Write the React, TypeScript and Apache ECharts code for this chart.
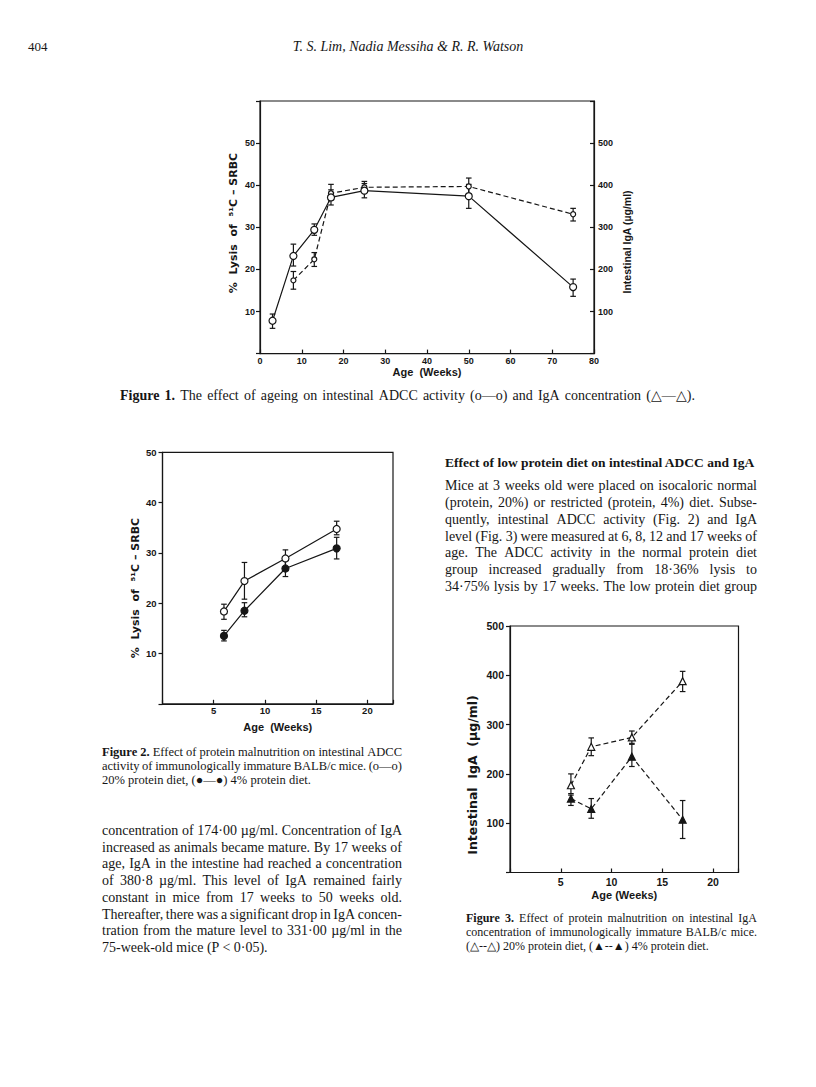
import React, { useEffect, useRef } from "react";
import * as echarts from "echarts";

// ---------- Figure 1 data ----------
const fig1Weeks = [3, 8, 13, 17, 25, 50, 75];
const fig1Adcc = [7.8, 23.2, 29.4, 37.1, 38.7, 37.4, 15.8];
const fig1AdccLow = [6.0, 20.8, 28.1, 35.3, 37.0, 34.5, 13.6];
const fig1AdccHigh = [9.4, 26.0, 30.8, 38.9, 40.4, 40.2, 17.7];
const fig1IgaWeeks = [8, 13, 17, 25, 50, 75];
const fig1Iga = [174, 224, 380.8, 395, 397, 331];
const fig1IgaLow = [153, 207, 365, 383, 380, 315];
const fig1IgaHigh = [195, 240, 402, 409, 417, 345];

// ---------- Figure 2 data ----------
const fig2Weeks = [6, 8, 12, 17];
const fig2Normal = [18.36, 24.4, 28.9, 34.75];
const fig2NormalLow = [16.8, 20.8, 27.1, 33.6];
const fig2NormalHigh = [19.8, 28.1, 30.6, 36.3];
const fig2Low = [13.5, 18.5, 26.9, 30.9];
const fig2LowLow = [12.5, 17.3, 25.3, 28.8];
const fig2LowHigh = [14.6, 20.1, 28.5, 33.1];

// ---------- Figure 3 data ----------
const fig3Weeks = [6, 8, 12, 17];
const fig3Normal = [177, 255, 274, 388];
const fig3NormalLow = [160, 237, 260, 367];
const fig3NormalHigh = [200, 273, 287, 408];
const fig3Low = [150, 129, 235, 107];
const fig3LowLow = [136, 110, 215, 69];
const fig3LowHigh = [157, 150, 262, 146];

// ---------- tick labels ----------
const fig1XTicks = [0, 10, 20, 30, 40, 50, 60, 70, 80];
const fig1YTicks = [10, 20, 30, 40, 50];
const fig1Y2Ticks = [100, 200, 300, 400, 500];
const fig23XTicks = [5, 10, 15, 20];
const fig2YTicks = [10, 20, 30, 40, 50];
const fig3YTicks = [100, 200, 300, 400, 500];

// ---------- axis titles ----------
const lysisTitle = "%  Lysis  of  \u2075\u00B9C \u2013 SRBC";
const igaTitle = "Intestinal  IgA  (\u00B5g/ml)";
const ageTitle = "Age  (Weeks)";

// ---------- page text ----------
const headerPage = "404";
const headerAuthors = "T. S. Lim, Nadia Messiha & R. R. Watson";
const fig1Caption = "Figure 1. The effect of ageing on intestinal ADCC activity (o—o) and IgA concentration (\u25B3—\u25B3).";
const fig2Caption = [
  "Figure 2. Effect of protein malnutrition on intestinal ADCC",
  "activity of immunologically immature BALB/c mice. (o—o)",
  "20% protein diet, (\u25CF—\u25CF) 4% protein diet.",
];
const fig3Caption = [
  "Figure 3. Effect of protein malnutrition on intestinal IgA",
  "concentration of immunologically immature BALB/c mice.",
  "(\u25B3--\u25B3) 20% protein diet, (\u25B2--\u25B2) 4% protein diet.",
];
const leftBody = [
  "concentration of 174·00 µg/ml. Concentration of IgA",
  "increased as animals became mature. By 17 weeks of",
  "age, IgA in the intestine had reached a concentration",
  "of 380·8 µg/ml. This level of IgA remained fairly",
  "constant in mice from 17 weeks to 50 weeks old.",
  "Thereafter, there was a significant drop in IgA concen-",
  "tration from the mature level to 331·00 µg/ml in the",
  "75-week-old mice (P < 0·05).",
];
const rightHeading = "Effect of low protein diet on intestinal ADCC and IgA";
const rightBody = [
  "Mice at 3 weeks old were placed on isocaloric normal",
  "(protein, 20%) or restricted (protein, 4%) diet. Subse-",
  "quently, intestinal ADCC activity (Fig. 2) and IgA",
  "level (Fig. 3) were measured at 6, 8, 12 and 17 weeks of",
  "age. The ADCC activity in the normal protein diet",
  "group increased gradually from 18·36% lysis to",
  "34·75% lysis by 17 weeks. The low protein diet group",
];

const SERIF = '"Liberation Serif", "Times New Roman", serif';
const SANS = '"Liberation Sans", Arial, "DejaVu Sans", sans-serif';
const WIDE = '"DejaVu Sans", "Liberation Sans", sans-serif';
const INK = "#161616";

type Line = {
  t: string;
  x: number;
  y: number;
  size: number;
  w?: number;
  b?: number;
  bold?: boolean;
  it?: boolean;
  align?: "left" | "center";
};

function buildLine(ctx: CanvasRenderingContext2D, L: Line): any[] {
  const isBold = (i: number) => !!(L.bold || (L.b && i < L.b));
  const fontOf = (i: number) =>
    `${L.it ? "italic " : ""}${isBold(i) ? "bold " : ""}${L.size}px ${SERIF}`;
  const styleOf = (i: number, text: string, align: string) => ({
    text,
    fontFamily: SERIF,
    fontSize: L.size,
    fontWeight: isBold(i) ? "bold" : "normal",
    fontStyle: L.it ? "italic" : "normal",
    fill: INK,
    align,
    verticalAlign: "middle",
  });
  if (!L.w && !L.b) {
    return [{ type: "text", x: L.x, y: L.y, silent: true, style: styleOf(-1, L.t, L.align || "left") }];
  }
  const words = L.t.split(" ");
  const widths = words.map((w, i) => {
    ctx.font = fontOf(i);
    return ctx.measureText(w).width;
  });
  ctx.font = fontOf(words.length + 5);
  let gap = ctx.measureText(" ").width;
  if (L.w && words.length > 1) {
    gap = (L.w - widths.reduce((a, b) => a + b, 0)) / (words.length - 1);
  }
  const els: any[] = [];
  let x = L.x;
  words.forEach((w, i) => {
    els.push({ type: "text", x, y: L.y, silent: true, style: styleOf(i, w, "left") });
    x += widths[i] + gap;
  });
  return els;
}

function vTitle(text: string, x: number, y: number, size: number, family: string) {
  return {
    type: "text",
    x,
    y,
    rotation: Math.PI / 2,
    silent: true,
    style: {
      text,
      fontFamily: family,
      fontSize: size,
      fontWeight: "bold",
      fill: INK,
      align: "center",
      verticalAlign: "middle",
    },
  };
}

function pageText(): any[] {
  const ctx = document.createElement("canvas").getContext("2d") as CanvasRenderingContext2D;
  const lines: Line[] = [];
  lines.push({ t: headerPage, x: 28, y: 46, size: 13 });
  lines.push({ t: headerAuthors, x: 408, y: 46, size: 14, it: true, align: "center" });
  lines.push({ t: fig1Caption, x: 120, y: 395, size: 14, b: 2, w: 575 });

  const f2y = [752, 766, 780];
  fig2Caption.forEach((t, i) =>
    lines.push({ t, x: 102, y: f2y[i], size: 12.5, b: i === 0 ? 2 : 0, w: i < 2 ? 300 : undefined })
  );
  const f3y = [918, 932, 946];
  fig3Caption.forEach((t, i) =>
    lines.push({ t, x: 466, y: f3y[i], size: 12, b: i === 0 ? 2 : 0, w: i < 2 ? 291 : undefined })
  );
  const ly = [830, 847, 863.5, 880, 897, 914, 930, 947];
  leftBody.forEach((t, i) =>
    lines.push({ t, x: 102, y: ly[i], size: 14, w: i < leftBody.length - 1 ? 300 : undefined })
  );
  lines.push({ t: rightHeading, x: 445, y: 462, size: 13.5, bold: true });
  const ry = [485, 502, 519, 536, 552, 569, 586];
  rightBody.forEach((t, i) => lines.push({ t, x: 445, y: ry[i], size: 14, w: 312 }));

  const els = lines.flatMap((L) => buildLine(ctx, L));
  els.push(vTitle(lysisTitle, 233, 223, 11, WIDE));
  els.push(vTitle(igaTitle.replace(/  /g, " "), 627, 242, 10.5, SANS));
  els.push(vTitle(lysisTitle, 135, 588, 11, WIDE));
  els.push(vTitle(igaTitle, 472, 775, 12.5, WIDE));
  return els;
}

const axisLine = { show: true, lineStyle: { color: INK, width: 1.2 } };
const tick = (inside: boolean) => ({ show: true, inside, length: 4, lineStyle: { color: INK, width: 1.2 } });
const labelStyle = (size: number) => ({ color: INK, fontFamily: SANS, fontSize: size, fontWeight: "bold" as const });
const nameStyle = { color: INK, fontFamily: SANS, fontSize: 11, fontWeight: "bold" as const };

function showIf(list: number[]) {
  return (v: number) => (list.indexOf(Math.round(v * 1000) / 1000) >= 0 ? String(v) : "");
}

function errSeries(xIdx: number, yIdx: number, xs: number[], lo: number[], hi: number[]) {
  return {
    type: "custom",
    xAxisIndex: xIdx,
    yAxisIndex: yIdx,
    z: 2,
    silent: true,
    data: xs.map((x, i) => [x, lo[i], hi[i]]),
    encode: { x: 0, y: [1, 2] },
    renderItem: (_p: any, api: any) => {
      const x = api.value(0);
      const a = api.coord([x, api.value(1)]);
      const b = api.coord([x, api.value(2)]);
      const st = { stroke: INK, lineWidth: 1.2 };
      const c = 2.8;
      return {
        type: "group",
        children: [
          { type: "line", shape: { x1: a[0], y1: a[1], x2: b[0], y2: b[1] }, style: st },
          { type: "line", shape: { x1: a[0] - c, y1: a[1], x2: a[0] + c, y2: a[1] }, style: st },
          { type: "line", shape: { x1: b[0] - c, y1: b[1], x2: b[0] + c, y2: b[1] }, style: st },
        ],
      };
    },
  };
}

function lineSeries(
  xIdx: number,
  yIdx: number,
  xs: number[],
  ys: number[],
  opts: { dashed?: boolean; symbol: string; size: number; filled?: boolean }
) {
  return {
    type: "line",
    xAxisIndex: xIdx,
    yAxisIndex: yIdx,
    z: 3,
    silent: true,
    data: xs.map((x, i) => [x, ys[i]]),
    symbol: opts.symbol,
    symbolSize: opts.size,
    showAllSymbol: true,
    lineStyle: { color: INK, width: 1.2, type: opts.dashed ? [5, 3] : "solid" },
    itemStyle: { color: opts.filled ? INK : "#fff", borderColor: INK, borderWidth: 1.2 },
  };
}

function buildOption() {
  const grids = [
    { left: 260, top: 101, width: 334, height: 252.6 },
    { left: 162.5, top: 452.3, width: 230.5, height: 251.5 },
    { left: 510, top: 626, width: 228.5, height: 246.5 },
  ].map((g) => ({
    ...g,
    show: true,
    borderColor: INK,
    borderWidth: 1.2,
    backgroundColor: "transparent",
    containLabel: false,
    outerBoundsMode: "none",
  }));

  const xAxis = [
    {
      gridIndex: 0,
      type: "value",
      min: 0,
      max: 80,
      interval: 10,
      axisLine,
      axisTick: tick(true),
      axisLabel: { ...labelStyle(9), margin: 3, formatter: showIf(fig1XTicks) },
      splitLine: { show: false },
      name: ageTitle,
      nameLocation: "middle",
      nameGap: 13,
      nameTextStyle: nameStyle,
    },
    {
      gridIndex: 1,
      type: "value",
      min: 0,
      max: 22.5,
      interval: 5,
      axisLine,
      axisTick: tick(true),
      axisLabel: { ...labelStyle(9.5), margin: 2, formatter: showIf(fig23XTicks) },
      splitLine: { show: false },
      name: ageTitle,
      nameLocation: "middle",
      nameGap: 18,
      nameTextStyle: nameStyle,
    },
    {
      gridIndex: 2,
      type: "value",
      min: 0,
      max: 22.5,
      interval: 5,
      axisLine,
      axisTick: tick(true),
      axisLabel: { ...labelStyle(10.5), margin: 4, formatter: showIf(fig23XTicks) },
      splitLine: { show: false },
      name: "Age (Weeks)",
      nameLocation: "middle",
      nameGap: 17,
      nameTextStyle: nameStyle,
    },
  ];

  const yAxis = [
    {
      gridIndex: 0,
      type: "value",
      min: 0,
      max: 60,
      interval: 10,
      axisLine,
      axisTick: tick(false),
      axisLabel: { ...labelStyle(9), margin: 5, formatter: showIf(fig1YTicks) },
      splitLine: { show: false },
    },
    {
      gridIndex: 0,
      type: "value",
      position: "right",
      min: 0,
      max: 600,
      interval: 100,
      axisLine,
      axisTick: tick(true),
      axisLabel: { ...labelStyle(9), margin: 4, formatter: showIf(fig1Y2Ticks) },
      splitLine: { show: false },
    },
    {
      gridIndex: 1,
      type: "value",
      min: 0,
      max: 50,
      interval: 10,
      axisLine,
      axisTick: tick(false),
      axisLabel: { ...labelStyle(9.5), margin: 6, formatter: showIf(fig2YTicks) },
      splitLine: { show: false },
    },
    {
      gridIndex: 2,
      type: "value",
      min: 0,
      max: 500,
      interval: 100,
      axisLine,
      axisTick: tick(false),
      axisLabel: { ...labelStyle(10.5), margin: 6, formatter: showIf(fig3YTicks) },
      splitLine: { show: false },
    },
  ];

  const series = [
    // Figure 1
    errSeries(0, 0, fig1Weeks, fig1AdccLow, fig1AdccHigh),
    errSeries(0, 1, fig1IgaWeeks, fig1IgaLow, fig1IgaHigh),
    lineSeries(0, 1, fig1IgaWeeks, fig1Iga, { dashed: true, symbol: "circle", size: 5 }),
    lineSeries(0, 0, fig1Weeks, fig1Adcc, { symbol: "circle", size: 7 }),
    // Figure 2
    errSeries(1, 2, fig2Weeks, fig2NormalLow, fig2NormalHigh),
    errSeries(1, 2, fig2Weeks, fig2LowLow, fig2LowHigh),
    lineSeries(1, 2, fig2Weeks, fig2Normal, { symbol: "circle", size: 7 }),
    lineSeries(1, 2, fig2Weeks, fig2Low, { symbol: "circle", size: 7, filled: true }),
    // Figure 3
    errSeries(2, 3, fig3Weeks, fig3NormalLow, fig3NormalHigh),
    errSeries(2, 3, fig3Weeks, fig3LowLow, fig3LowHigh),
    lineSeries(2, 3, fig3Weeks, fig3Normal, { dashed: true, symbol: "triangle", size: 7 }),
    lineSeries(2, 3, fig3Weeks, fig3Low, { dashed: true, symbol: "triangle", size: 7, filled: true }),
  ];

  return {
    animation: false,
    backgroundColor: "#fff",
    textStyle: { fontFamily: SANS, color: INK },
    grid: grids,
    xAxis,
    yAxis,
    series,
    graphic: { elements: pageText() },
  };
}

export default function App() {
  const ref = useRef<HTMLDivElement>(null);
  useEffect(() => {
    if (!ref.current) return;
    const chart = echarts.init(ref.current, undefined, { renderer: "svg" });
    chart.setOption(buildOption() as any);
    return () => chart.dispose();
  }, []);
  return (
    <div
      ref={ref}
      style={{ position: "absolute", left: 0, top: 0, width: 816, height: 1087, background: "#fff" }}
    />
  );
}
